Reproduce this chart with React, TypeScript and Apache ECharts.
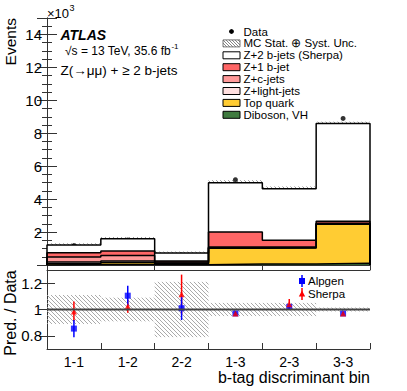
import React, { useEffect, useRef } from 'react';
import * as echarts from 'echarts';

// ---------- data (values in units of 10^3 events) ----------
const binLabels = ['1-1', '1-2', '2-2', '1-3', '2-3', '3-3'];
const dataEvents = [1.18, 1.52, 0.6, 5.18, 4.39, 8.9];
const dibosonVH = [0.03, 0.03, 0.02, 0.06, 0.06, 0.1];
const topQuark = [0.05, 0.12, 0.06, 0.95, 0.97, 2.38];
const zLight = [0.1, 0.1, 0.04, 0.03, 0.02, 0.02];
const zC = [0.3, 0.32, 0.06, 0.06, 0.04, 0.03];
const z1b = [0.26, 0.28, 0.06, 0.9, 0.42, 0.12];
const z2b = [0.48, 0.75, 0.49, 3.0, 3.12, 5.95];
// relative half-width of the hatched band drawn in the upper panel
const mcBandTop = [0.08, 0.06, 0.12, 0.03, 0.03, 0.012];
// relative half-width of the hatched band in the ratio panel
const mcRelUnc = [0.11, 0.09, 0.21, 0.05, 0.05, 0.015];
const alpgenRatio = [0.855, 1.105, 1.01, 0.97, 1.02, 0.97];
const alpgenErr = [0.065, 0.075, 0.09, 0.015, 0.015, 0.01];
const sherpaRatio = [0.985, 1.025, 1.115, 0.97, 1.04, 0.97];
const sherpaErr = [0.075, 0.05, 0.15, 0.015, 0.04, 0.01];
const eventTicks = [2, 4, 6, 8, 10, 12, 14];
const ratioTicks = [0.8, 1, 1.2];
const legendNames = ['Data', 'MC Stat. \u2295 Syst. Unc.', 'Z+2 b-jets (Sherpa)', 'Z+1 b-jet', 'Z+c-jets', 'Z+light-jets', 'Top quark', 'Diboson, VH'];

// stack order bottom -> top
const layerValues = [dibosonVH, topQuark, zLight, zC, z1b, z2b];
const layerColors = ['#3f7a3f', '#ffcc33', '#ffdfdf', '#ff9999', '#ff6666', '#ffffff'];

const FONT = '"Liberation Sans", Arial, Helvetica, sans-serif';

function textWidth(t: string, size: number, weight = 'normal', style = 'normal') {
  const c = document.createElement('canvas').getContext('2d')!;
  c.font = `${style} ${weight} ${size}px ${FONT}`;
  return c.measureText(t).width;
}

function hatchLines(x0: number, y0: number, x1: number, y1: number, s: number, stroke: string, lw: number) {
  const out: any[] = [];
  const cMin = Math.ceil((x0 - y1) / s) * s;
  for (let c = cMin; c < x1 - y0; c += s) {
    const xs = Math.max(x0, c + y0);
    const xe = Math.min(x1, c + y1);
    if (xe - xs > 0.3) {
      out.push({ type: 'line', silent: true, shape: { x1: xs, y1: xs - c, x2: xe, y2: xe - c }, style: { stroke, lineWidth: lw } });
    }
  }
  return out;
}

function stepPoints(vals: number[]) {
  const pts: number[][] = [[0, 0]];
  vals.forEach((v, i) => pts.push([i, v]));
  pts.push([vals.length, vals[vals.length - 1]]);
  pts.push([vals.length, 0]);
  return pts;
}

function buildOption() {
  const n = binLabels.length;
  const cum: number[][] = [];
  layerValues.forEach((vals, k) => {
    cum.push(vals.map((v, i) => v + (k > 0 ? cum[k - 1][i] : 0)));
  });
  const total = cum[cum.length - 1];

  const histSeries = [];
  for (let k = layerValues.length - 1; k >= 0; k--) {
    histSeries.push({
      type: 'line',
      xAxisIndex: 0,
      yAxisIndex: 0,
      step: 'end',
      data: stepPoints(cum[k]),
      symbol: 'none',
      silent: true,
      lineStyle: { color: '#000', width: 1.5 },
      areaStyle: { color: layerColors[k], opacity: 1 },
    });
  }

  const hatchRender = (stroke: string, s: number, lw: number) => (params: any, api: any) => {
    const i = api.value(0);
    const lo = api.value(1);
    const hi = api.value(2);
    const p0 = api.coord([i, hi]);
    const p1 = api.coord([i + 1, lo]);
    return { type: 'group', children: hatchLines(p0[0], p0[1], p1[0], p1[1], s, stroke, lw) };
  };

  const errRender = (stroke: string) => (params: any, api: any) => {
    const x = api.value(0);
    const a = api.coord([x, api.value(1)]);
    const b = api.coord([x, api.value(2)]);
    return { type: 'line', shape: { x1: a[0], y1: a[1], x2: b[0], y2: b[1] }, style: { stroke, lineWidth: 1.5 } };
  };

  const axisLineStyle = { color: '#333', width: 1 };
  const labelStyle = { color: '#000', fontFamily: FONT };

  // ---------- graphic texts & legends ----------
  const g: any[] = [];
  const txt = (text: string, x: number, y: number, size: number, extra: any = {}) =>
    g.push({
      type: 'text',
      silent: true,
      style: { text, x, y, fill: '#000', fontSize: size, fontFamily: FONT, align: 'left', verticalAlign: 'middle', ...extra },
    });

  // x10^3
  txt('\u00d710', 47, 13, 13);
  txt('3', 47 + textWidth('\u00d710', 13) + 0.5, 7.5, 9);
  g.push({
    type: 'text', silent: true, x: 10, y: 18, rotation: Math.PI / 2,
    style: { text: 'Events', x: 0, y: 0, fill: '#000', fontSize: 15.5, fontFamily: FONT, align: 'right', verticalAlign: 'middle' },
  });
  g.push({
    type: 'text', silent: true, x: 10, y: 313, rotation: Math.PI / 2,
    style: { text: 'Pred. / Data', x: 0, y: 0, fill: '#000', fontSize: 16, fontFamily: FONT, align: 'center', verticalAlign: 'middle' },
  });
  txt('ATLAS', 60.5, 35, 14, { fontWeight: 'bold', fontStyle: 'italic' });
  const sLine = '\u221as = 13 TeV, 35.6 fb';
  txt(sLine, 65, 51, 12);
  txt('-1', 65 + textWidth(sLine, 12) + 0.5, 46.5, 8);
  txt('Z(\u2192\u03bc\u03bc) + \u2265 2 b-jets', 60.5, 70, 13.5);
  txt('b-tag discriminant bin', 370, 377, 16, { align: 'right' });

  // main legend
  const legX = 223;
  const legW = 17;
  const legH = 7;
  const legTextX = 243.5;
  legendNames.forEach((name, r) => {
    const y = 31.5 + r * 11.9;
    txt(name, legTextX, y, 11.5);
    if (r === 0) {
      g.push({ type: 'circle', silent: true, shape: { cx: legX + legW / 2, cy: y, r: 2.4 }, style: { fill: '#000' } });
    } else if (r === 1) {
      g.push({ type: 'rect', silent: true, shape: { x: legX, y: y - legH / 2, width: legW, height: legH }, style: { fill: '#fff', stroke: '#777', lineWidth: 1 } });
      g.push({ type: 'group', silent: true, children: hatchLines(legX, y - legH / 2, legX + legW, y + legH / 2, 3, '#666', 0.8) });
    } else {
      const k = layerValues.length - 1 - (r - 2);
      g.push({ type: 'rect', silent: true, shape: { x: legX, y: y - legH / 2, width: legW, height: legH }, style: { fill: layerColors[k], stroke: '#000', lineWidth: 1 } });
    }
  });

  // ratio legend
  const rlx = 302;
  txt('Alpgen', 308, 281, 11.5);
  txt('Sherpa', 308, 294, 11.5);
  g.push({ type: 'line', silent: true, shape: { x1: rlx, y1: 275, x2: rlx, y2: 287 }, style: { stroke: '#0000ff', lineWidth: 1.5 } });
  g.push({ type: 'rect', silent: true, shape: { x: rlx - 3, y: 278, width: 6, height: 6 }, style: { fill: '#0000ff' } });
  g.push({ type: 'line', silent: true, shape: { x1: rlx, y1: 288, x2: rlx, y2: 300 }, style: { stroke: '#ff0000', lineWidth: 1.5 } });
  g.push({ type: 'polygon', silent: true, shape: { points: [[rlx, 290.5], [rlx + 3.2, 296.5], [rlx - 3.2, 296.5]] }, style: { fill: '#ff0000' } });

  const centers = binLabels.map((_, i) => i + 0.5);

  return {
    animation: false,
    backgroundColor: '#fff',
    grid: [
      { left: 47, top: 18, width: 323, height: 247 },
      { left: 47, top: 270, width: 323, height: 79 },
    ],
    xAxis: [
      {
        gridIndex: 0, type: 'value', min: 0, max: n, interval: 1, position: 'bottom',
        axisLine: { show: true, lineStyle: axisLineStyle }, axisTick: { show: false }, axisLabel: { show: false }, splitLine: { show: false },
      },
      {
        gridIndex: 0, type: 'value', min: 0, max: n, interval: 2, position: 'top',
        axisLine: { show: true, lineStyle: axisLineStyle }, axisTick: { show: true, inside: true, length: 5, lineStyle: axisLineStyle },
        axisLabel: { show: false }, splitLine: { show: false },
      },
      {
        gridIndex: 1, type: 'value', min: 0, max: n, interval: 1, position: 'bottom',
        axisLine: { show: true, lineStyle: axisLineStyle }, axisTick: { show: true, inside: true, length: 6, lineStyle: axisLineStyle },
        axisLabel: { show: true, customValues: centers, formatter: (v: number) => binLabels[Math.floor(v)] ?? '', fontSize: 14, margin: 6, ...labelStyle },
        splitLine: { show: false },
      },
      {
        gridIndex: 1, type: 'value', min: 0, max: n, interval: 1, position: 'top',
        axisLine: { show: true, lineStyle: axisLineStyle }, axisTick: { show: false }, axisLabel: { show: false }, splitLine: { show: false },
      },
    ],
    yAxis: [
      {
        gridIndex: 0, type: 'value', min: 0, max: 15, interval: 2, position: 'left',
        axisLine: { show: true, lineStyle: axisLineStyle },
        axisTick: { show: true, inside: true, length: 10, lineStyle: axisLineStyle },
        minorTick: { show: true, splitNumber: 4, length: 5, lineStyle: axisLineStyle },
        axisLabel: { show: true, customValues: eventTicks, formatter: (v: number) => String(v), fontSize: 15, margin: 5, ...labelStyle },
        splitLine: { show: false }, minorSplitLine: { show: false },
      },
      {
        gridIndex: 0, type: 'value', min: 0, max: 15, interval: 2, position: 'right',
        axisLine: { show: true, lineStyle: axisLineStyle },
        axisTick: { show: true, inside: true, length: 10, lineStyle: axisLineStyle },
        minorTick: { show: true, splitNumber: 4, length: 5, lineStyle: axisLineStyle },
        axisLabel: { show: false }, splitLine: { show: false }, minorSplitLine: { show: false },
      },
      {
        gridIndex: 1, type: 'value', min: 0.7, max: 1.3, position: 'left',
        axisLine: { show: true, lineStyle: axisLineStyle },
        axisTick: { show: true, inside: true, length: 8, customValues: ratioTicks, lineStyle: axisLineStyle },
        axisLabel: { show: true, customValues: ratioTicks, formatter: (v: number) => String(Number(v.toFixed(2))), fontSize: 15, margin: 5, ...labelStyle },
        splitLine: { show: false },
      },
      {
        gridIndex: 1, type: 'value', min: 0.7, max: 1.3, position: 'right',
        axisLine: { show: true, lineStyle: axisLineStyle },
        axisTick: { show: true, inside: true, length: 8, customValues: ratioTicks, lineStyle: axisLineStyle },
        axisLabel: { show: false }, splitLine: { show: false },
      },
    ],
    series: [
      ...histSeries,
      {
        type: 'custom', xAxisIndex: 0, yAxisIndex: 0, silent: true,
        renderItem: hatchRender('#666', 4, 0.7),
        data: total.map((t, i) => [i, t * (1 - mcBandTop[i]), t * (1 + mcBandTop[i])]),
      },
      {
        type: 'scatter', xAxisIndex: 0, yAxisIndex: 0, silent: true,
        symbol: 'circle', symbolSize: 5, itemStyle: { color: '#000' },
        data: dataEvents.map((v, i) => [centers[i], v]),
      },
      {
        type: 'custom', xAxisIndex: 2, yAxisIndex: 2, silent: true,
        renderItem: hatchRender('#a0a0a0', 4, 0.9),
        data: mcRelUnc.map((u, i) => [i, 1 - u, 1 + u]),
      },
      {
        type: 'line', xAxisIndex: 2, yAxisIndex: 2, silent: true, symbol: 'none',
        lineStyle: { color: '#444', width: 2 },
        data: [[0, 1], [n, 1]],
      },
      {
        type: 'custom', xAxisIndex: 2, yAxisIndex: 2, silent: true,
        renderItem: errRender('#ff0000'),
        data: sherpaRatio.map((v, i) => [centers[i], v - sherpaErr[i], v + sherpaErr[i]]),
      },
      {
        type: 'custom', xAxisIndex: 2, yAxisIndex: 2, silent: true,
        renderItem: errRender('#0000ff'),
        data: alpgenRatio.map((v, i) => [centers[i], v - alpgenErr[i], v + alpgenErr[i]]),
      },
      {
        type: 'scatter', xAxisIndex: 2, yAxisIndex: 2, silent: true,
        symbol: 'rect', symbolSize: 6, itemStyle: { color: '#0000ff' },
        data: alpgenRatio.map((v, i) => [centers[i], v]),
      },
      {
        type: 'scatter', xAxisIndex: 2, yAxisIndex: 2, silent: true,
        symbol: 'triangle', symbolSize: 6, itemStyle: { color: '#ff0000' },
        data: sherpaRatio.map((v, i) => [centers[i], v]),
      },
    ],
    graphic: g,
  };
}

export default function App() {
  const ref = useRef<HTMLDivElement>(null);
  useEffect(() => {
    if (!ref.current) return;
    const chart = echarts.init(ref.current, undefined, { renderer: 'svg' });
    chart.setOption(buildOption() as any);
    return () => chart.dispose();
  }, []);
  return <div ref={ref} style={{ position: 'fixed', left: 0, top: 0, width: 407, height: 391, background: '#fff' }} />;
}
